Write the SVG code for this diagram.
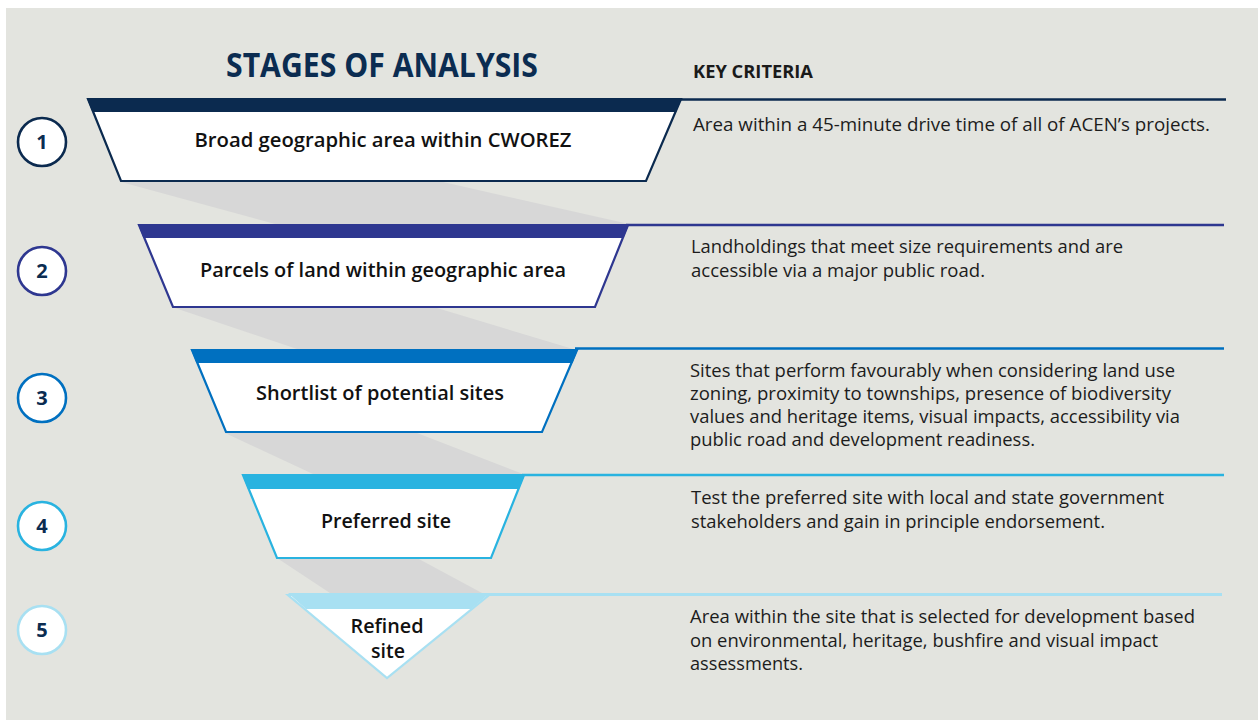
<svg xmlns="http://www.w3.org/2000/svg" width="1258" height="720" viewBox="0 0 1258 720">
  <style>
    .title { font-family: "Open Sans", "Liberation Sans", sans-serif; font-weight: 700; font-size: 34px; fill: #0b2c51; }
    .head { font-family: "Open Sans", "Liberation Sans", sans-serif; font-weight: 700; font-size: 17px; fill: #1a1a1a; }
    .label { font-family: "Open Sans", "Liberation Sans", sans-serif; font-weight: 600; font-size: 19.5px; fill: #111111; text-anchor: middle; }
    .desc { font-family: "Open Sans", "Liberation Sans", sans-serif; font-size: 17.5px; fill: #1c1c1c; }
    .num { font-family: "Open Sans", "Liberation Sans", sans-serif; font-weight: 700; font-size: 20px; fill: #0b2c51; text-anchor: middle; }
    .shadow { fill: #d7d7d7; }
    .box { fill: #ffffff; stroke-width: 2.2; stroke-linejoin: miter; }
    .ring { fill: #ffffff; stroke-width: 2.6; }
    .rule { stroke-width: 2.4; fill: none; }
  </style>

  <!-- page background -->
  <rect x="6" y="8" width="1252" height="712" fill="#e3e4df"/>

  <!-- headings -->
  <text class="title" x="226" y="77" textLength="312" lengthAdjust="spacingAndGlyphs">STAGES OF ANALYSIS</text>
  <text class="head" x="693" y="78" textLength="120" lengthAdjust="spacingAndGlyphs">KEY CRITERIA</text>

  <!-- funnel shadows between stages -->
  <g id="connectors">
    <polygon class="shadow" points="121,182 443,182 629,224 275,224"/>
    <polygon class="shadow" points="175,308 437,308 573,349 297,349"/>
    <polygon class="shadow" points="225,433 417,433 523,474 313,474"/>
    <polygon class="shadow" points="277,558 417,558 482,593 330,593"/>
  </g>

  <!-- stage 1 -->
  <g id="stage1">
    <line class="rule" x1="679" y1="99.5" x2="1226" y2="99.5" stroke="#0b2a4f"/>
    <polygon class="box" stroke="#0b2a4f" points="88,99 681,99 646,181 121,181"/>
    <polygon fill="#0b2a4f" points="87,98.5 681.5,98.5 676,112 92.5,112"/>
    <text class="label" x="383" y="147" textLength="377" lengthAdjust="spacingAndGlyphs">Broad geographic area within CWOREZ</text>
    <circle class="ring" cx="42" cy="142" r="24" stroke="#0b2a4f"/>
    <text class="num" x="42" y="149">1</text>
    <text class="desc" x="693" y="131" textLength="517" lengthAdjust="spacingAndGlyphs">Area within a 45-minute drive time of all of ACEN’s projects.</text>
  </g>

  <!-- stage 2 -->
  <g id="stage2">
    <line class="rule" x1="626" y1="225" x2="1224" y2="225" stroke="#2e3790"/>
    <polygon class="box" stroke="#2e3790" points="139,225 628,225 595,307 173,307"/>
    <polygon fill="#2e3790" points="138,224 629,224 623.5,238 143.5,238"/>
    <text class="label" x="383" y="277" textLength="366" lengthAdjust="spacingAndGlyphs">Parcels of land within geographic area</text>
    <circle class="ring" cx="42" cy="271" r="24" stroke="#2e3790"/>
    <text class="num" x="42" y="278">2</text>
    <text class="desc" x="691" y="253" textLength="432" lengthAdjust="spacingAndGlyphs">Landholdings that meet size requirements and are</text>
    <text class="desc" x="691" y="277" textLength="294" lengthAdjust="spacingAndGlyphs">accessible via a major public road.</text>
  </g>

  <!-- stage 3 -->
  <g id="stage3">
    <line class="rule" x1="575" y1="348.5" x2="1224" y2="348.5" stroke="#0070c0"/>
    <polygon class="box" stroke="#0070c0" points="192,350 577,350 542,432 226,432"/>
    <polygon fill="#0070c0" points="191,349 578,349 572.5,363 196.5,363"/>
    <text class="label" x="380" y="400" textLength="248" lengthAdjust="spacingAndGlyphs">Shortlist of potential sites</text>
    <circle class="ring" cx="42" cy="398" r="24" stroke="#0070c0"/>
    <text class="num" x="42" y="405">3</text>
    <text class="desc" x="690" y="377" textLength="485" lengthAdjust="spacingAndGlyphs">Sites that perform favourably when considering land use</text>
    <text class="desc" x="690" y="400" textLength="481" lengthAdjust="spacingAndGlyphs">zoning, proximity to townships, presence of biodiversity</text>
    <text class="desc" x="690" y="423" textLength="490" lengthAdjust="spacingAndGlyphs">values and heritage items, visual impacts, accessibility via</text>
    <text class="desc" x="690" y="446" textLength="345" lengthAdjust="spacingAndGlyphs">public road and development readiness.</text>
  </g>

  <!-- stage 4 -->
  <g id="stage4">
    <line class="rule" x1="522" y1="475" x2="1224" y2="475" stroke="#29b3e0"/>
    <polygon class="box" stroke="#29b3e0" points="243,475 524,475 491,558 277,558"/>
    <polygon fill="#29b3e0" points="242,474 525,474 519,489 248,489"/>
    <text class="label" x="386" y="528" textLength="130" lengthAdjust="spacingAndGlyphs">Preferred site</text>
    <circle class="ring" cx="42" cy="526" r="24" stroke="#29b3e0"/>
    <text class="num" x="42" y="533">4</text>
    <text class="desc" x="691" y="504" textLength="473" lengthAdjust="spacingAndGlyphs">Test the preferred site with local and state government</text>
    <text class="desc" x="691" y="528" textLength="414" lengthAdjust="spacingAndGlyphs">stakeholders and gain in principle endorsement.</text>
  </g>

  <!-- stage 5 -->
  <g id="stage5">
    <line x1="488" y1="594.5" x2="1222" y2="594.5" stroke="#a8e0f2" stroke-width="3"/>
    <polygon class="box" stroke="#a8e0f2" stroke-width="3" points="288,595 489,595 387,678"/>
    <polygon fill="#a8e0f2" points="288,593 490,593 471,609 306,609"/>
    <text class="label" x="387" y="633" textLength="73" lengthAdjust="spacingAndGlyphs">Refined</text>
    <text class="label" x="388" y="658" textLength="34" lengthAdjust="spacingAndGlyphs">site</text>
    <circle class="ring" cx="42" cy="630" r="24" stroke="#a8e0f2"/>
    <text class="num" x="42" y="637">5</text>
    <text class="desc" x="690" y="623" textLength="505" lengthAdjust="spacingAndGlyphs">Area within the site that is selected for development based</text>
    <text class="desc" x="690" y="647" textLength="468" lengthAdjust="spacingAndGlyphs">on environmental, heritage, bushfire and visual impact</text>
    <text class="desc" x="690" y="670" textLength="113" lengthAdjust="spacingAndGlyphs">assessments.</text>
  </g>
</svg>
